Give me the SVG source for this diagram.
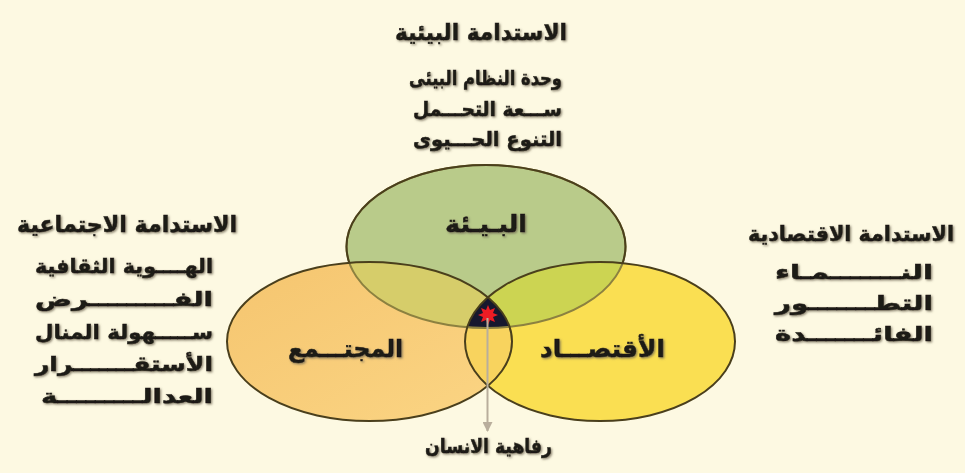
<svg xmlns="http://www.w3.org/2000/svg" width="965" height="473" viewBox="0 0 965 473">
<style>
.t{font-family:"DejaVu Sans","Noto Sans",sans-serif;font-weight:bold;fill:#1c1a14;stroke:#1c1a14;stroke-width:0.5;filter:url(#sh)}
.ttl{font-size:23px}
.ln{font-size:20px}
.lbl{font-size:24px}
.edge{fill:none;stroke:#4a3f1c;stroke-width:2}
</style>
<defs>
<filter id="sh" x="-5%" y="-20%" width="110%" height="150%">
<feDropShadow dx="1.2" dy="1.2" stdDeviation="0.8" flood-color="#6b6250" flood-opacity="0.8"/>
</filter>
<clipPath id="cL"><ellipse cx="369.5" cy="341.5" rx="142.5" ry="79.5"/></clipPath>
<clipPath id="cR"><ellipse cx="600" cy="341.5" rx="135" ry="79.5"/></clipPath>
<mask id="mOut">
<rect width="965" height="473" fill="#fff"/>
<ellipse cx="369.5" cy="341.5" rx="142.5" ry="79.5" fill="#000"/>
<ellipse cx="600" cy="341.5" rx="135" ry="79.5" fill="#000"/>
</mask>
<linearGradient id="gO" x1="0" y1="0" x2="1" y2="1">
<stop offset="0" stop-color="#f5c56f"/>
<stop offset="1" stop-color="#fbd584"/>
</linearGradient>
<marker id="ah" viewBox="0 0 10 10" refX="9" refY="5" markerWidth="5" markerHeight="5" orient="auto">
<path d="M0,0 L10,5 L0,10 z" fill="#b9ae9c"/>
</marker>
</defs>
<rect width="965" height="473" fill="#fdf9e2"/>

<g id="node-society">
<ellipse cx="369.5" cy="341.5" rx="142.5" ry="79.5" fill="url(#gO)"/>
</g>
<g id="node-economy">
<ellipse cx="600" cy="341.5" rx="135" ry="79.5" fill="#fadf52"/>
<ellipse cx="600" cy="341.5" rx="135" ry="79.5" fill="#f8d35e" clip-path="url(#cL)"/>
</g>
<g id="node-environment">
<ellipse cx="486" cy="246.5" rx="139.5" ry="81.5" fill="#b9cb8a"/>
<g clip-path="url(#cL)"><ellipse cx="486" cy="246.5" rx="139.5" ry="81.5" fill="#d6cd6a"/></g>
<g clip-path="url(#cR)"><ellipse cx="486" cy="246.5" rx="139.5" ry="81.5" fill="#ccd452"/></g>
<g clip-path="url(#cL)"><g clip-path="url(#cR)"><ellipse cx="486" cy="246.5" rx="139.5" ry="81.5" fill="#17182e"/></g></g>
</g>

<g id="outlines">
<ellipse cx="486" cy="246.5" rx="139.5" ry="81.5" fill="none" stroke="#8c8140" stroke-width="2"/>
<ellipse class="edge" cx="486" cy="246.5" rx="139.5" ry="81.5" mask="url(#mOut)"/>
<ellipse class="edge" cx="369.5" cy="341.5" rx="142.5" ry="79.5"/>
<ellipse class="edge" cx="600" cy="341.5" rx="135" ry="79.5"/>
</g>

<g id="star">
<polygon fill="#ee1c24" points="488,305 490,310 495,308 493,313 498,315 493,317 495,322 490,320 488,325 486,320 481,322 483,317 478,315 483,313 481,308 486,310"/>
</g>

<g id="connectors">
<line x1="487.5" y1="318" x2="487.5" y2="431" stroke="#b9ae9c" stroke-width="2" marker-end="url(#ah)"/>
</g>

<g id="label-environment"><text class="t lbl" x="486" y="232" text-anchor="middle" textLength="82" lengthAdjust="spacingAndGlyphs">البـيـئة</text></g>
<g id="label-society"><text class="t lbl" x="345.5" y="357" text-anchor="middle" textLength="115" lengthAdjust="spacingAndGlyphs">المجتـــمع</text></g>
<g id="label-economy"><text class="t lbl" x="602.5" y="357" text-anchor="middle" textLength="125" lengthAdjust="spacingAndGlyphs">الأقتصـــاد</text></g>
<g id="label-wellbeing"><text class="t ln" x="488.5" y="453" text-anchor="middle" textLength="127" lengthAdjust="spacingAndGlyphs">رفاهية الانسان</text></g>

<g id="block-environmental">
<text class="t ttl" x="481" y="40" text-anchor="middle" textLength="172" lengthAdjust="spacingAndGlyphs">الاستدامة البيئية</text>
<text class="t ln" x="485.5" y="85" text-anchor="middle" textLength="153" lengthAdjust="spacingAndGlyphs">وحدة النظام البيئى</text>
<text class="t ln" x="487.5" y="116" text-anchor="middle" textLength="149" lengthAdjust="spacingAndGlyphs">ســـعة التحـــمل</text>
<text class="t ln" x="487.5" y="146" text-anchor="middle" textLength="149" lengthAdjust="spacingAndGlyphs">التنوع الحـــيوى</text>
</g>

<g id="block-social">
<text class="t ttl" x="127" y="232" text-anchor="middle" textLength="220" lengthAdjust="spacingAndGlyphs">الاستدامة الاجتماعية</text>
<text class="t ln" x="124" y="273" text-anchor="middle" textLength="178" lengthAdjust="spacingAndGlyphs">الهــــوية الثقافية</text>
<text class="t ln" x="124" y="306" text-anchor="middle" textLength="178" lengthAdjust="spacingAndGlyphs">الفـــــــــرض</text>
<text class="t ln" x="124" y="339" text-anchor="middle" textLength="178" lengthAdjust="spacingAndGlyphs">ســـــهولة المنال</text>
<text class="t ln" x="124" y="371" text-anchor="middle" textLength="178" lengthAdjust="spacingAndGlyphs">الأستقـــــــرار</text>
<text class="t ln" x="127" y="403" text-anchor="middle" textLength="172" lengthAdjust="spacingAndGlyphs">العدالـــــــــة</text>
</g>

<g id="block-economic">
<text class="t" style="font-size:21px" x="851" y="241" text-anchor="middle" textLength="206" lengthAdjust="spacingAndGlyphs">الاستدامة الاقتصادية</text>
<text class="t ln" x="854" y="279" text-anchor="middle" textLength="158" lengthAdjust="spacingAndGlyphs">النـــــــمـاء</text>
<text class="t ln" x="854" y="310" text-anchor="middle" textLength="158" lengthAdjust="spacingAndGlyphs">التطـــــــور</text>
<text class="t ln" x="854" y="341" text-anchor="middle" textLength="158" lengthAdjust="spacingAndGlyphs">الفائـــــــدة</text>
</g>
</svg>
